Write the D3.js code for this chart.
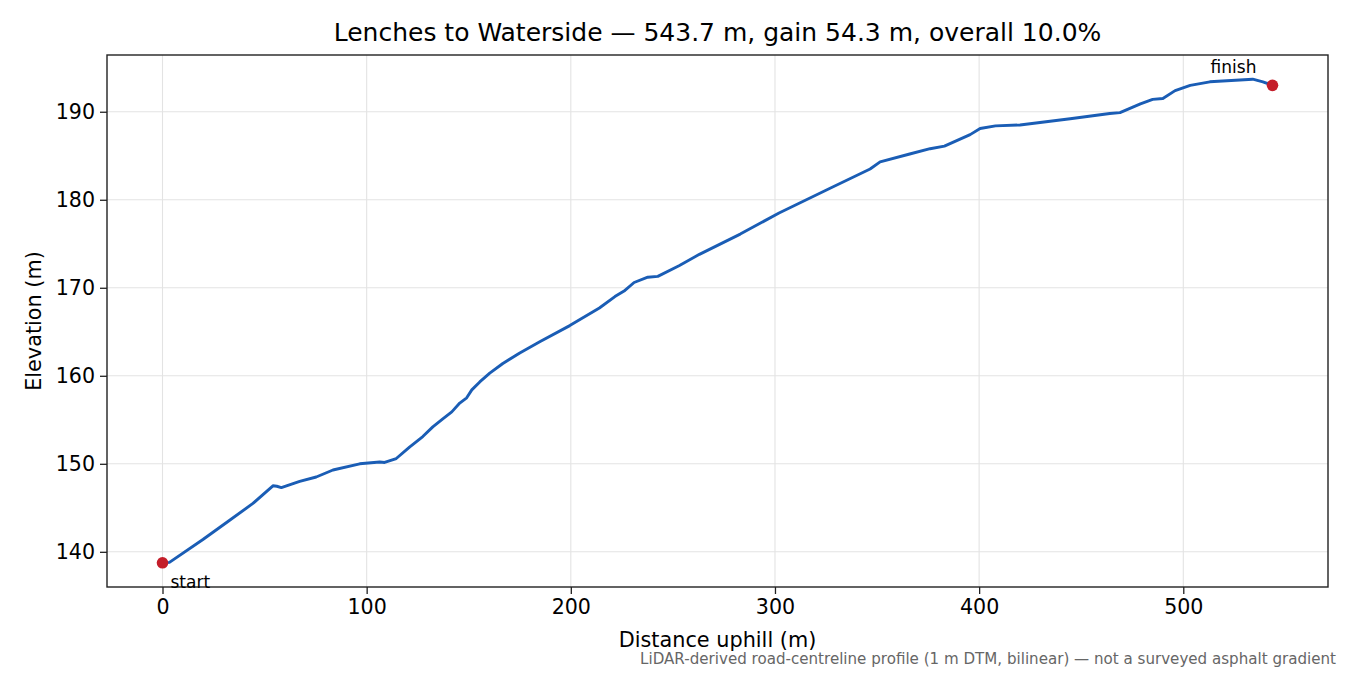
<!DOCTYPE html>
<html>
<head>
<meta charset="utf-8">
<script src="https://cdn.jsdelivr.net/npm/d3@7"></script>
<style>
  body { margin: 0; background: #fff; }
  svg { display: block; font-family: "DejaVu Sans", sans-serif; }
</style>
</head>
<body>
<svg id="chart" width="1350" height="675"></svg>
<script>
// distance along the road (m) and elevation (m)
const distance = [0, 3.4, 19.8, 31.2, 44.3, 54.1, 56, 58.2, 67.2, 75.3, 83.5, 96.6, 106.4, 108.8, 114.5,
  121, 127.5, 132.4, 137.3, 141.7, 145.6, 149, 151.5, 155.4, 160.3, 166.7, 175, 185, 199.5, 214,
  221.6, 226.5, 231, 237.7, 242.6, 253, 263, 283, 302, 327, 346.6, 351.5, 366, 376, 383, 395.6,
  400.5, 408, 420, 444.6, 464, 469, 479, 485, 490, 496, 503.4, 513, 534, 539, 543.7];
const elevation = [138.75, 138.8, 141.4, 143.3, 145.5, 147.5, 147.45, 147.3, 148.0, 148.5, 149.3, 150.0, 150.2, 150.15, 150.6,
  151.9, 153.1, 154.2, 155.1, 155.9, 156.9, 157.5, 158.4, 159.3, 160.3, 161.4, 162.6, 163.9, 165.7, 167.7,
  169.0, 169.7, 170.6, 171.2, 171.3, 172.5, 173.8, 176.1, 178.5, 181.3, 183.5, 184.3, 185.2, 185.8, 186.1, 187.4,
  188.1, 188.4, 188.5, 189.2, 189.8, 189.9, 190.9, 191.4, 191.5, 192.4, 193.0, 193.4, 193.7, 193.4, 193.0];
const xTicks = [0, 100, 200, 300, 400, 500];
const yTicks = [140, 150, 160, 170, 180, 190];

const titleText = "Lenches to Waterside \u2014 543.7 m, gain 54.3 m, overall 10.0%";
const note = "LiDAR-derived road-centreline profile (1 m DTM, bilinear) \u2014 not a surveyed asphalt gradient";

const svg = d3.select("#chart");
const margin = { top: 55, right: 22, bottom: 88, left: 107 };
const width = 1350 - margin.left - margin.right;
const height = 675 - margin.top - margin.bottom;

const data = distance.map((d, i) => ({ d, e: elevation[i] }));

// matplotlib-like 5% padding
const xExt = d3.extent(distance), yExt = d3.extent(elevation);
const xPad = (xExt[1] - xExt[0]) * 0.05, yPad = (yExt[1] - yExt[0]) * 0.05;

const x = d3.scaleLinear().domain([xExt[0] - xPad, xExt[1] + xPad]).range([0, width]);
const y = d3.scaleLinear().domain([yExt[0] - yPad, yExt[1] + yPad]).range([height, 0]);

const chart = svg.append("g").attr("transform", `translate(${margin.left},${margin.top})`);

// grid
chart.append("g").selectAll("line").data(xTicks).enter().append("line")
  .attr("x1", d => x(d)).attr("x2", d => x(d)).attr("y1", 0).attr("y2", height)
  .attr("stroke", "#e3e3e3").attr("stroke-width", 1.1);
chart.append("g").selectAll("line").data(yTicks).enter().append("line")
  .attr("y1", d => y(d)).attr("y2", d => y(d)).attr("x1", 0).attr("x2", width)
  .attr("stroke", "#e3e3e3").attr("stroke-width", 1.1);

// axes
const xAxis = chart.append("g")
  .attr("transform", `translate(0,${height})`)
  .call(d3.axisBottom(x).tickValues(xTicks).tickSize(7).tickPadding(5).tickFormat(d3.format("d")));
const yAxis = chart.append("g")
  .call(d3.axisLeft(y).tickValues(yTicks).tickSize(7).tickPadding(5).tickFormat(d3.format("d")));
[xAxis, yAxis].forEach(a => {
  a.select(".domain").remove();
  a.selectAll("line").attr("stroke", "#222").attr("stroke-width", 1.3);
  a.selectAll("text").attr("fill", "#000").style("font-size", "20.6px").style("font-family", "DejaVu Sans");
});

// frame
chart.append("rect").attr("width", width).attr("height", height)
  .attr("fill", "none").attr("stroke", "#222").attr("stroke-width", 1.4);

// profile line
chart.append("path")
  .datum(data)
  .attr("fill", "none")
  .attr("stroke", "#1a5db5")
  .attr("stroke-width", 2.9)
  .attr("stroke-linejoin", "round")
  .attr("d", d3.line().x(p => x(p.d)).y(p => y(p.e)));

// start / finish markers
const ends = [data[0], data[data.length - 1]];
chart.selectAll(".end").data(ends).enter().append("circle")
  .attr("class", "end")
  .attr("cx", p => x(p.d)).attr("cy", p => y(p.e)).attr("r", 5.8)
  .attr("fill", "#c41e2a");

chart.append("text")
  .attr("x", x(ends[0].d) + 8).attr("y", y(ends[0].e) + 25)
  .style("font-size", "17px").text("start");
chart.append("text")
  .attr("x", x(ends[1].d) - 39).attr("y", y(ends[1].e) - 12)
  .attr("text-anchor", "middle")
  .style("font-size", "17px").text("finish");

// labels
svg.append("text")
  .attr("x", margin.left + width / 2).attr("y", 41)
  .attr("text-anchor", "middle").style("font-size", "25px")
  .text(titleText);

svg.append("text")
  .attr("x", margin.left + width / 2).attr("y", 647)
  .attr("text-anchor", "middle").style("font-size", "20.8px")
  .text("Distance uphill (m)");

svg.append("text")
  .attr("transform", `translate(41,${margin.top + height / 2}) rotate(-90)`)
  .attr("text-anchor", "middle").style("font-size", "20.8px")
  .text("Elevation (m)");

svg.append("text")
  .attr("x", 1336).attr("y", 664)
  .attr("text-anchor", "end").style("font-size", "15.1px")
  .attr("fill", "#666")
  .text(note);
</script>
</body>
</html>
